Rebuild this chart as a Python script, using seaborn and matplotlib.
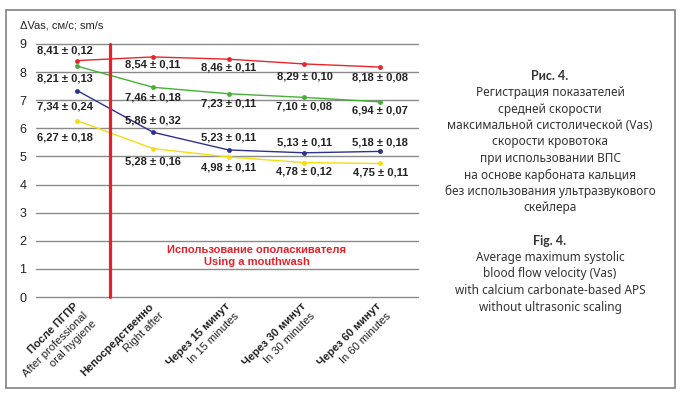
import pandas as pd
import matplotlib.pyplot as plt
import seaborn as sns

# values
stages = [0, 1, 2, 3, 4]
stage_ru = ['После ПГПР', 'Непосредственно', 'Через 15 минут', 'Через 30 минут', 'Через 60 минут']
stage_en = ['After professional\noral hygiene', 'Right after', 'In 15 minutes', 'In 30 minutes', 'In 60 minutes']

red_mean = [8.41, 8.54, 8.46, 8.29, 8.18]
red_sd = [0.12, 0.11, 0.11, 0.10, 0.08]
green_mean = [8.21, 7.46, 7.23, 7.10, 6.94]
green_sd = [0.13, 0.18, 0.11, 0.08, 0.07]
blue_mean = [7.34, 5.86, 5.23, 5.13, 5.18]
blue_sd = [0.24, 0.32, 0.11, 0.11, 0.18]
yellow_mean = [6.27, 5.28, 4.98, 4.78, 4.75]
yellow_sd = [0.18, 0.16, 0.11, 0.12, 0.11]

series = {'red': (red_mean, red_sd), 'green': (green_mean, green_sd),
          'blue': (blue_mean, blue_sd), 'yellow': (yellow_mean, yellow_sd)}
colors = {'red': '#e8262a', 'green': '#45b035', 'blue': '#2e3192', 'yellow': '#f5dc12'}
# label offsets in pixels (down = positive)
label_dy = {'red': [-10, 8, 8, 13, 10], 'green': [12, 10, 10, 9, 9],
            'blue': [16, -12, -12, -10, -9], 'yellow': [17, 13, 10, 9, 9]}
label_dx = [-12, 0, 0, 0, 0]

rows = []
for name, (m, s) in series.items():
    for st, v in zip(stages, m):
        rows.append({'stage': st, 'value': v, 'series': name})
df = pd.DataFrame(rows)

sns.set_style('white')
plt.rcParams['font.family'] = ['Liberation Sans', 'DejaVu Sans']

fig = plt.figure(figsize=(6.81, 3.93), dpi=100)
ax = fig.add_axes([36 / 681, 96 / 393, 382 / 681, 253 / 393])

sns.lineplot(data=df, x='stage', y='value', hue='series', palette=colors,
             marker='o', markersize=3.5, markeredgewidth=0, linewidth=1.0,
             legend=False, ax=ax, zorder=3)

ax.set_xlim(-0.546, 4.5)
ax.set_ylim(0, 9)
ax.set_yticks(range(10))
ax.yaxis.grid(True, color='#8a8a8a', linewidth=1.0)
ax.xaxis.grid(False)
for sp in ax.spines.values():
    sp.set_visible(False)
ax.tick_params(axis='y', length=0, pad=7, labelsize=9, labelcolor='#222222')
ax.set_xticks(stages)
ax.set_xticklabels([])
ax.tick_params(axis='x', length=0)
ax.set_xlabel('')
ax.set_ylabel('')
for line in ax.get_ygridlines():
    line.set_clip_on(False)

ax.axvline(0.43, ymin=0, ymax=1, color='#e8202a', linewidth=2.3, zorder=4, clip_on=False)

for name, (m, s) in series.items():
    for i, (v, e) in enumerate(zip(m, s)):
        txt = f'{v:.2f} ± {e:.2f}'.replace('.', ',')
        ax.annotate(txt, (stages[i], v), xytext=(label_dx[i], -label_dy[name][i]),
                    textcoords='offset pixels', ha='center', va='center',
                    fontsize=8, fontweight='bold', color='#222222')

for i in stages:
    ax.annotate(stage_ru[i], (i, 0), xycoords=('data', 'axes fraction'),
                xytext=(-3, -3), textcoords='offset points', rotation=45,
                rotation_mode='anchor', ha='right', va='top',
                fontsize=8, fontweight='bold', color='#222222')
    ax.annotate(stage_en[i], (i, 0), xycoords=('data', 'axes fraction'),
                xytext=(-3 + 6.8, -3 - 6.8), textcoords='offset points', rotation=45,
                rotation_mode='anchor', ha='right', va='top', multialignment='right',
                fontsize=8, color='#222222', linespacing=1.2)

ax.text(2.37, 1.67, 'Использование ополаскивателя', ha='center', va='center',
        fontsize=8, fontweight='bold', color='#e8202a')
ax.text(2.37, 1.25, 'Using a mouthwash', ha='center', va='center',
        fontsize=8, fontweight='bold', color='#e8202a')

fig.text(20 / 681, 1 - 26 / 393, 'ΔVas, см/с; sm/s', ha='left', va='center',
         fontsize=8, color='#222222')

caption = [('Рис. 4.', True), ('Регистрация показателей', False), ('средней скорости', False),
           ('максимальной систолической (Vas)', False), ('скорости кровотока', False),
           ('при использовании ВПС', False), ('на основе карбоната кальция', False),
           ('без использования ультразвукового', False), ('скейлера', False), ('', False),
           ('Fig. 4.', True), ('Average maximum systolic', False), ('blood flow velocity (Vas)', False),
           ('with calcium carbonate-based APS', False), ('without ultrasonic scaling', False)]
for k, (t, b) in enumerate(caption):
    y = 76 + k * 16.5
    if b:
        fig.text(550 / 681, 1 - y / 393, t, ha='center', va='center', fontsize=9,
                 fontweight='bold', color='#333333', family='Lato')
    else:
        fig.text(550 / 681, 1 - y / 393, t, ha='center', va='center', fontsize=8.5,
                 color='#333333', family='Noto Sans')

fig.patches.append(plt.Rectangle((6 / 681, 5 / 393), 669 / 681, 378 / 393,
                                 transform=fig.transFigure, fill=False,
                                 edgecolor='#8a8a8a', linewidth=1.3))

fig.savefig('out.png', dpi=100)
